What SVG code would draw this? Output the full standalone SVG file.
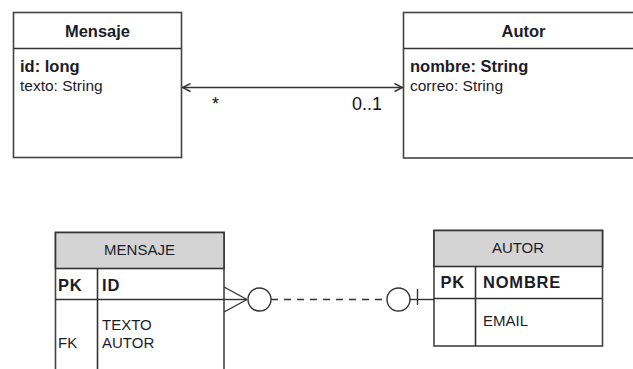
<svg xmlns="http://www.w3.org/2000/svg" width="633" height="369" viewBox="0 0 633 369">
  <defs>
    <style>
      .box { fill: #ffffff; stroke: #444; stroke-width: 1.6; }
      .head { fill: #d4d4d4; stroke: #333; stroke-width: 1.6; }
      .rule { stroke: #333; stroke-width: 1.6; fill: none; }
      .t { font-family: "Liberation Sans", Arial, sans-serif; fill: #1c1c28; }
      .title { font-size: 16.5px; font-weight: bold; text-anchor: middle; }
      .attr { font-size: 15.5px; }
      .attrb { font-size: 16.5px; font-weight: bold; }
      .mult { font-family: "Liberation Sans", Arial, sans-serif; font-size: 18px; fill: #111; }
      .er { font-size: 15px; }
      .erb { font-size: 16.5px; font-weight: bold; letter-spacing: 0.8px; }
      .link { stroke: #333; stroke-width: 1.4; fill: none; }
    </style>
    <marker id="open" viewBox="0 0 10 10" refX="9" refY="5" markerWidth="10" markerHeight="10" markerUnits="userSpaceOnUse" orient="auto-start-reverse">
      <path d="M1,1 L9,5 L1,9" fill="none" stroke="#333" stroke-width="1.4"/>
    </marker>
  </defs>

  <!-- UML class: Mensaje -->
  <g id="uml-mensaje">
    <rect class="box" x="13.5" y="12.5" width="168" height="145"/>
    <line class="rule" x1="13.5" y1="48.5" x2="181.5" y2="48.5"/>
    <text class="t title" x="97.5" y="37">Mensaje</text>
    <text class="t attrb" x="20" y="72">id: long</text>
    <text class="t attr" x="20" y="91">texto: String</text>
  </g>

  <!-- UML class: Autor -->
  <g id="uml-autor">
    <rect class="box" x="403.5" y="12.5" width="240" height="145.5"/>
    <line class="rule" x1="403.5" y1="48.5" x2="633" y2="48.5"/>
    <text class="t title" x="523.5" y="37">Autor</text>
    <text class="t attrb" x="410" y="72">nombre: String</text>
    <text class="t attr" x="410" y="91">correo: String</text>
  </g>

  <!-- ER table: MENSAJE -->
  <g id="er-mensaje">
    <rect class="box" x="55.5" y="232.5" width="168.5" height="150"/>
    <rect class="head" x="55.5" y="232.5" width="168.5" height="36"/>
    <line class="rule" x1="55.5" y1="299.5" x2="224" y2="299.5"/>
    <line class="rule" x1="97.5" y1="268.5" x2="97.5" y2="369"/>
    <text class="t er" x="139.5" y="255" text-anchor="middle">MENSAJE</text>
    <text class="t erb" x="58" y="291">PK</text>
    <text class="t erb" x="102" y="291">ID</text>
    <text class="t er" x="102" y="330">TEXTO</text>
    <text class="t er" x="58" y="348">FK</text>
    <text class="t er" x="102" y="348">AUTOR</text>
  </g>

  <!-- ER table: AUTOR -->
  <g id="er-autor">
    <rect class="box" x="434" y="230.5" width="168.5" height="115.5"/>
    <rect class="head" x="434" y="230.5" width="168.5" height="36"/>
    <line class="rule" x1="434" y1="298.5" x2="602.5" y2="298.5"/>
    <line class="rule" x1="475.5" y1="266.5" x2="475.5" y2="346"/>
    <text class="t er" x="518" y="253" text-anchor="middle">AUTOR</text>
    <text class="t erb" x="440.5" y="288">PK</text>
    <text class="t erb" x="483" y="288">NOMBRE</text>
    <text class="t er" x="483" y="326">EMAIL</text>
  </g>

  <!-- Connectors -->
  <g id="connectors">
    <!-- UML association, navigable both ways -->
    <line class="link" x1="182.5" y1="87.5" x2="402.5" y2="87.5" marker-start="url(#open)" marker-end="url(#open)"/>
    <text class="mult" x="212" y="110">*</text>
    <text class="mult" x="352" y="110">0..1</text>

    <!-- ER relationship: zero-or-many to zero-or-one -->
    <line class="link" x1="224" y1="299.5" x2="247" y2="299.5"/>
    <line class="link" x1="224" y1="287" x2="247" y2="299.5"/>
    <line class="link" x1="224" y1="312" x2="247" y2="299.5"/>
    <circle class="link" cx="259.5" cy="299.5" r="11.5"/>
    <line class="link" x1="271" y1="299.5" x2="387" y2="299.5" stroke-dasharray="7,6"/>
    <circle class="link" cx="398.5" cy="299.5" r="11.5"/>
    <line class="link" x1="410" y1="299.5" x2="434" y2="299.5"/>
    <line class="link" x1="417.5" y1="289" x2="417.5" y2="305"/>
  </g>
</svg>
